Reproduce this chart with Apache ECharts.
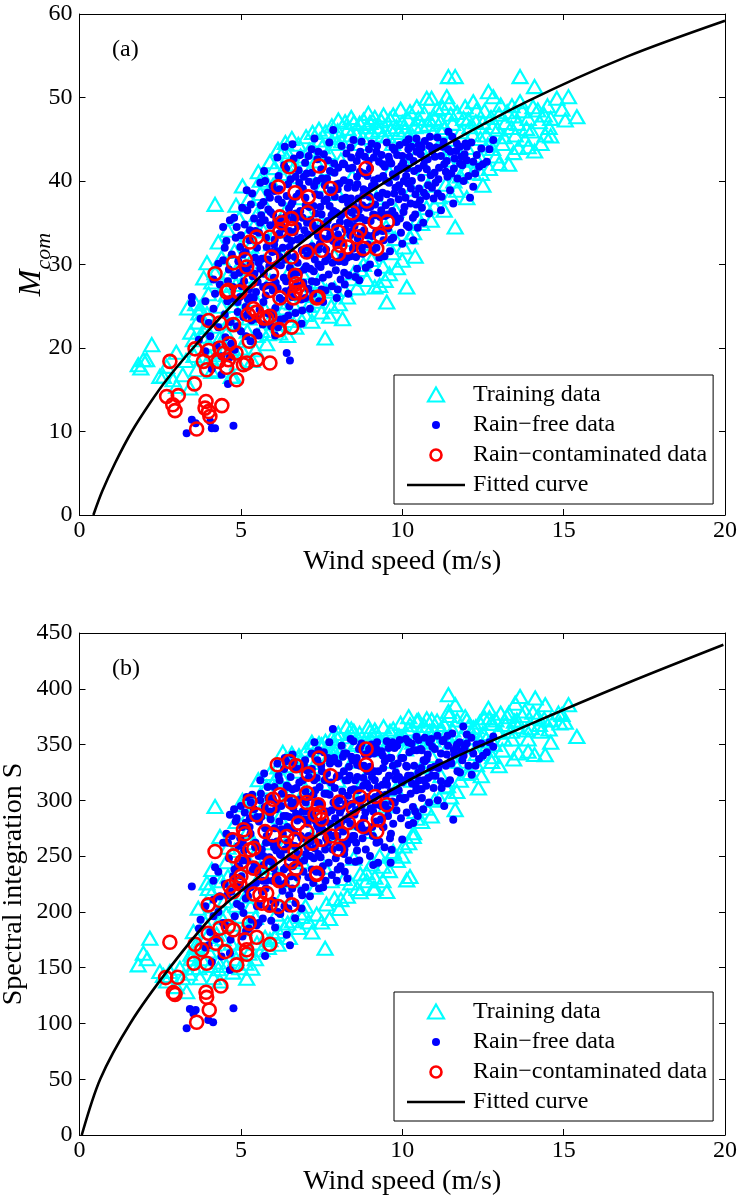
<!DOCTYPE html>
<html><head><meta charset="utf-8">
<script src="https://cdn.jsdelivr.net/npm/echarts@6/dist/echarts.min.js"></script>
<style>html,body{margin:0;padding:0;background:#fff}#c{width:739px;height:1201px}</style>
</head><body><div id="c"></div><script>
// ---------- DATA ----------
const seriesNames = ['Training data', 'Rain\u2212free data', 'Rain\u2212contaminated data', 'Fitted curve'];
const xTicks = [0, 5, 10, 15, 20];
const yTicksA = [0, 10, 20, 30, 40, 50, 60];
const yTicksB = [0, 50, 100, 150, 200, 250, 300, 350, 400, 450];

// ---- panel (a) ----
const trainA1 = [[1.82,18],[1.98,18.6],[2.08,18.6],[2.24,20.4],[2.49,16.6],[2.6,16.6],[2.7,17.8],[1.9,17.6],
[3.01,15.4],[3.2,16.8],[3.42,15.2],[3.3,18.5],[3.53,21],[3.63,17.4],[3.0,19.5],[3.35,24.8],[3.6,25.3],[3.7,24.2],[2.9,16.2],
[3.73,24.8],[3.9,22.5],[4.0,20.5],[4.1,17.2],[4.25,17.4],[4.35,21.2],[4.4,25],[4.5,27.5],[4.2,29],[4.3,32.7],[4.2,37.2],[4.6,23],[4.0,26.5],[3.85,28.4],[4.45,19.5],[4.7,16.6],[4.77,16.6],[4.9,18.2],[3.8,18.8],
[5.0,20],[5.2,22],[5.1,24.5],[5.3,27],[4.9,29.5],[5.4,31],[5.2,33.5],[5.5,36],[5.54,41.1],[5.6,38.5],[4.95,35.5],[5.35,18.5],[5.5,21.5],[5.05,30.5],[4.8,31.6],[5.45,25.8],[5.7,34],
[5.8,20.5],[6.0,23],[6.2,25.5],[5.9,28],[6.3,31],[6.1,34],[6.4,36.5],[6.0,39.5],[6.5,42],[6.3,43.5],[6.6,40.5],[5.75,37],[6.45,21.5],[6.2,21.8],[6.55,29.5],[5.95,32.5],
[6.7,22.5],[7.0,24],[7.3,26.5],[6.9,29],[7.2,32],[7.5,35],[6.8,38],[7.1,41],[7.25,43.7],[7.45,44.9],[7.61,21.2],[7.4,28],[7.0,36.5],[7.55,39.5],[6.85,43],
[7.86,44.5],[7.97,44.5],[8.23,47.1],[8.0,46],[8.4,45.5],[8.1,42.5],[7.8,25],[8.2,27],[8.5,29],[7.9,31],[8.3,33],[8.6,36],[8.0,38.5],[8.45,40.5],[8.5,47],[7.7,41.5],[8.15,23.5],
[8.9,46.5],[9.0,47.0],[9.2,46.5],[9.4,45.5],[8.7,44.5],[9.1,43.5],[9.47,28.1],[9.52,25.5],[9.3,27.5],[8.8,30],[9.0,32.5],[9.5,34.5],[9.78,33.1],[9.2,38],[9.6,41],[9.35,47.2],[8.8,47.3],[9.65,46.2],
[9.72,47.9],[10.24,48.3],[10.0,47],[10.4,46.5],[9.9,45.8],[10.5,47.5],[10.14,27.3],[10.24,33.3],[10.0,30.5],[10.5,35.5],[9.8,36.5],[10.3,39],[10.1,42],[10.55,44],[10.2,45.5],[9.7,44.5],[10.4,31],
[10.76,49.9],[10.91,49.9],[11.38,50.1],[11.43,52.5],[11.64,52.5],[11.0,47.5],[11.2,46],[11.5,48],[10.8,46.8],[11.1,44],[11.4,42.5],[11.6,40],[11.69,38.9],[11.64,34.5],[11.0,37],[10.8,39.5],[11.3,36.5],[11.5,45],[10.7,41.5],[11.25,48.8],
[11.9,47.5],[12.1,46.5],[12.3,48.5],[12.5,47],[12.0,44],[12.4,43],[12.2,41],[12.6,45.5],[11.8,42.5],[12.5,39.5],[12.0,38],[12.2,49.5],
[12.67,50.7],[12.82,50.1],[13.0,48],[13.2,47],[13.4,49],[12.8,46.5],[13.1,44.5],[13.5,45.5],[12.9,43],[13.3,42],[13.6,44],[12.7,41.5],
[13.65,52.5],[13.65,49.5],[14.1,51.3],[14.79,49.9],[15.15,50.1],[15.41,47.7],[14.43,45.5],[13.9,47.5],[14.2,48.5],[14.5,49],[14.0,46],[14.6,47.5],[13.8,45],[14.3,44.5]];
const trainA2 = [[6.05,41.6],[6.15,43.8],[6.25,40.9],[6.38,44.6],[6.48,43.1],[6.58,45.1],[6.68,41.8],[6.78,44.4],[6.92,42.6],[7.02,45.3],[7.12,43.7],[7.22,45.8],[7.32,42.4],[7.42,46.2],[7.52,44.1],[7.62,45.9],[7.72,43.4],[7.82,46.6],[7.92,45.2],[8.02,47.3],[8.12,44.8],[8.32,46.3],[8.42,47.6],[8.58,45.6],[8.68,46.9],[8.78,45.2],[8.95,48.1],[9.05,45.9],[9.15,47.6],[9.28,46.1],[9.42,47.9],[9.55,45.4],[9.62,47.4],[9.82,46.5],[9.95,48.6],[10.08,46.1],[10.18,47.4],[10.32,45.4],[10.45,48.9],[10.6,46.6],[10.68,48.1],[10.85,47.3],[10.95,45.8],[11.08,48.6],[11.18,47.1],[11.32,46.4],[11.45,49.3],[11.56,46.9],[11.7,48.2],[11.82,45.9],[11.95,48.9],[12.05,47.4],[12.18,45.6],[12.28,47.1],[12.42,45.1],[12.55,48.4],[12.65,44.3],[12.75,47.6],[12.95,46.2],[13.05,49.1],[13.15,45.3],[13.25,48.3],[13.38,46.4],[13.48,47.8],[13.58,46.9],[13.72,48.4],[13.85,46.3],[14.05,48.9],[14.25,47.1],[14.4,47.9],[14.55,46.4],[14.95,48.6],[15.05,47.3],
[4.55,21.8],[4.75,19.9],[4.85,22.8],[5.15,20.9],[5.25,23.6],[5.45,19.8],[5.65,22.1],[5.75,24.6],[5.85,21.7],[6.05,24.3],[6.15,22.9],[6.35,24.8],[6.5,23.3],[6.6,25.4],[6.8,23.9],[6.95,26.3],[7.1,25.1],[7.2,23.2],[7.35,25.6],[7.5,24.3],[7.65,26.8],[7.75,23.8],[7.9,27.1],[8.05,25.3],[8.3,26.1],[8.4,28.3],[8.6,27.2],[8.7,29.4],[8.9,28.2],[9.05,30.6],[9.15,27.3],[9.4,29.8],[9.6,28.9],[9.7,31.4],[9.85,29.6],[10.05,32.1],[10.35,33.8],[10.6,34.9],[10.75,36.8],[10.9,35.3],[11.15,38.1],[11.35,39.6],[11.5,38.3],[11.8,40.6],[12.0,41.4],[12.3,42.6],[12.45,40.9],[12.8,43.9],[13.0,42.1],[13.45,43.4],[13.9,44.1],[14.1,43.6],[14.6,45.4],
[3.45,21.9],[3.55,19.1],[3.65,23.1],[3.8,21.4],[3.95,24.1],[4.05,18.9],[4.15,22.6],[4.3,19.2],[4.45,23.6],[4.55,26.4],[4.65,29.1],[4.75,25.1],[4.85,27.6],[5.0,25.9],[5.15,28.6],[5.3,32.2],[5.4,34.6],[5.25,37.9],[5.6,40.1],[5.8,39.8],[5.9,42.3],[5.7,30.3],[4.4,30.8],[4.1,27.9],[3.95,30.2],[4.6,34.1],[4.85,37.1],[5.05,39.4]];

const freeA1 = [[3.32,9.8],[3.48,11.4],[3.6,11.0],[4.1,10.4],[4.2,10.4],[4.05,11.2],[4.77,10.7],[3.48,26.1],[3.48,25.4],[4.66,35.3],[4.87,34.5],[3.7,21],[4.0,23],[3.9,25.6],[4.2,26.5],[4.3,22.5],[4.5,24],[4.6,28],[4.45,30.5],[4.7,20.5],[4.4,19],[4.1,17.5],[4.6,15.7],[4.5,32],
[5.0,22],[5.2,24],[5.4,26],[5.1,28],[5.3,30],[5.5,32],[5.0,33.5],[5.6,35],[5.2,36.5],[5.7,37.5],[4.9,25.5],[5.5,23.5],[5.8,27.5],[5.3,20.8],[5.6,29.5],[4.95,29],[5.45,34],[5.15,31.5],[5.7,25.5],[5.35,38.5],[5.75,40],[5.55,21.5],[5.25,27],
[6.0,24],[6.2,26],[6.4,28],[6.1,30],[6.3,32],[6.5,34],[6.0,36],[6.6,37.5],[6.2,39],[6.7,40.5],[6.4,41.5],[5.9,38],[6.83,43.1],[6.5,25],[6.7,29],[6.05,33],[6.45,31],[6.25,35.5],[6.75,33],[6.15,22.5],[6.55,27],[6.35,23.5],[6.42,19.4],[6.52,18.5],[6.65,36],[5.95,27.5],[6.8,38.5],
[7.0,26],[7.2,28],[7.4,30],[7.1,32],[7.3,34],[7.5,36],[7.0,38],[7.6,39.5],[7.2,41],[7.7,42.5],[7.4,43.5],[7.86,46.1],[6.9,24.5],[7.5,27],[7.7,31],[7.05,35],[7.45,32.5],[7.25,37],[7.65,34.5],[7.15,29.5],[7.55,25.5],[7.35,40],[6.95,40.5],[7.75,37],[7.1,43],
[8.0,27],[8.2,29],[8.4,31],[8.1,33],[8.3,35],[8.5,37],[8.0,39],[8.6,40.5],[8.2,42],[8.7,43.5],[8.4,44],[7.97,26],[8.33,26.5],[8.55,28.5],[8.75,32],[8.05,36],[8.45,34],[8.25,38],[8.65,36.5],[8.15,31],[7.9,41],[8.8,39],[8.35,41.5],[8.6,29.5],
[9.0,30],[9.2,32],[9.4,34],[9.1,36],[9.3,38],[9.5,40],[9.0,41.5],[9.6,42.5],[9.2,43.5],[9.7,44],[9.4,42],[8.9,33.5],[9.55,36],[9.75,38.5],[9.15,39.5],[9.45,31],[9.65,33],[9.05,44.5],[9.35,36.5],[9.8,40.5],[9.25,29],
[10.0,32.5],[10.2,34.5],[10.4,36],[10.1,38],[10.3,40],[10.5,41.5],[10.0,43],[10.6,44],[10.2,45],[10.7,42.5],[9.93,35.5],[10.34,32.9],[10.55,37.7],[10.8,39.5],[10.15,41.5],[10.45,43.5],[10.65,35],[10.05,40],
[10.86,45.3],[11.43,45.9],[11.69,44.5],[11.96,44.5],[12.31,43.1],[11.79,42.1],[12.26,40.9],[12.2,39.3],[11.58,37.3],[12.82,44.9],[11.0,41],[11.2,43],[11.4,40.5],[11.1,38.5],[11.3,42],[11.6,41.5],[11.9,40],[12.0,42.5],[11.5,43.5],[11.2,36.5],[11.05,44],[12.1,38],[12.5,42]];
const freeA2 = [[4.52,21.3],[4.58,25.6],[4.63,29.4],[4.68,23.1],[4.72,31.2],[4.76,27.3],[4.81,19.8],[4.84,33.2],[4.88,22.6],[4.92,30.4],[4.97,26.1],[4.55,32.8],[4.66,18.9],[4.79,35.6],[4.9,24.3],
[5.02,27.4],[5.06,31.2],[5.08,23.7],[5.12,34.8],[5.16,21.4],[5.19,29.3],[5.22,25.8],[5.27,32.9],[5.31,37.2],[5.33,23.3],[5.37,28.6],[5.41,35.5],[5.44,30.8],[5.47,26.7],[5.49,21.9],[5.04,36.8],[5.18,38.9],[5.28,34.1],
[5.52,27.9],[5.56,33.8],[5.58,24.6],[5.62,37.1],[5.65,30.7],[5.68,22.8],[5.71,28.9],[5.74,35.3],[5.77,26.3],[5.8,32.1],[5.83,38.6],[5.86,24.1],[5.88,29.8],[5.91,34.7],[5.94,22.6],[5.97,31.5],[5.99,26.9],[5.6,39.8],[5.72,41.2],[5.85,36.6],
[6.02,28.4],[6.04,38.8],[6.07,24.8],[6.09,35.1],[6.12,31.6],[6.14,27.2],[6.17,40.6],[6.19,33.7],[6.22,23.4],[6.24,29.9],[6.27,37.4],[6.29,25.7],[6.32,34.3],[6.34,41.9],[6.37,30.6],[6.39,26.8],[6.42,38.2],[6.44,33.1],[6.47,23.9],[6.49,36.7],[6.13,42.8],[6.36,44.1],[6.06,21.5],
[6.52,29.6],[6.54,40.2],[6.57,32.8],[6.59,26.1],[6.62,35.4],[6.64,42.7],[6.67,30.9],[6.69,24.2],[6.72,38.1],[6.74,27.5],[6.77,34.6],[6.79,41.3],[6.82,29.1],[6.84,36.4],[6.87,25.8],[6.89,31.7],[6.92,39.1],[6.94,27.8],[6.97,34.1],[6.99,42.2],[6.6,44.4],[6.88,22.9],
[7.02,29.8],[7.04,40.9],[7.07,33.6],[7.09,27.1],[7.12,36.9],[7.14,24.7],[7.17,31.4],[7.19,43.8],[7.22,34.8],[7.24,26.5],[7.27,39.4],[7.29,30.6],[7.32,36.1],[7.34,27.9],[7.37,42.6],[7.39,33.4],[7.42,25.6],[7.44,38.3],[7.47,29.7],[7.49,41.4],[7.28,45.1],
[7.52,33.1],[7.54,28.4],[7.57,43.2],[7.59,37.6],[7.62,26.9],[7.64,31.8],[7.67,40.3],[7.69,35.2],[7.72,28.8],[7.74,44.6],[7.77,33.7],[7.79,38.9],[7.82,27.4],[7.84,30.2],[7.87,36.4],[7.89,42.1],[7.92,34.5],[7.94,29.3],[7.97,39.6],[7.99,32.3],
[8.02,41.6],[8.04,30.4],[8.07,35.1],[8.09,28.2],[8.12,44.2],[8.14,37.8],[8.17,32.6],[8.19,40.1],[8.22,27.6],[8.24,34.2],[8.27,43.3],[8.29,30.8],[8.32,37.3],[8.34,28.7],[8.37,39.8],[8.39,33.5],[8.42,42.8],[8.44,36.2],[8.47,31.9],[8.49,44.9],
[8.52,34.6],[8.54,39.2],[8.57,30.9],[8.59,42.4],[8.62,33.1],[8.64,37.9],[8.67,28.1],[8.69,41.1],[8.72,35.6],[8.74,44.7],[8.77,31.3],[8.79,38.3],[8.82,34.1],[8.84,42.9],[8.87,29.6],[8.89,36.8],[8.92,40.6],[8.94,32.4],[8.97,43.8],[8.99,38.1],
[9.02,35.2],[9.06,39.4],[9.09,31.7],[9.12,42.8],[9.16,37.2],[9.19,33.9],[9.22,44.2],[9.26,40.3],[9.29,30.8],[9.32,35.7],[9.36,43.1],[9.39,38.6],[9.42,32.9],[9.46,41.7],[9.49,37.1],
[9.52,44.6],[9.56,34.3],[9.59,39.8],[9.62,31.6],[9.66,42.1],[9.69,36.4],[9.72,33.2],[9.76,43.7],[9.79,39.2],[9.82,35.1],[9.86,41.4],[9.89,37.8],[9.92,44.3],[9.96,33.8],[9.99,38.7],
[10.03,42.2],[10.07,36.9],[10.11,44.6],[10.14,34.7],[10.18,39.7],[10.22,42.9],[10.26,37.3],[10.29,44.1],[10.33,35.6],[10.37,41.2],[10.41,38.4],[10.44,45.1],[10.48,34.4],
[10.52,39.1],[10.57,43.2],[10.61,36.8],[10.66,41.9],[10.7,44.8],[10.74,38.2],[10.79,42.6],[10.83,36.1],[10.88,40.7],[10.93,43.6],[10.97,37.9],
[11.03,39.8],[11.09,45.2],[11.14,41.6],[11.22,38.1],[11.28,44.7],[11.35,41.1],[11.42,43.8],[11.48,38.9],[11.55,45.3],[11.62,42.7],[11.71,40.3],[11.78,44.1],[11.86,41.9],[11.93,43.2],[12.05,40.6],[12.14,44.6],[12.38,41.7],[12.45,43.9],[12.62,42.3],[12.7,43.8],
[3.9,19.6],[4.05,21.4],[4.15,24.7],[4.25,20.3],[4.35,27.6],[4.4,16.8],[4.3,30.1],[4.15,28.2],[3.75,23.5],[4.45,34.5]];
const freeA3 = [[5.55,30.2],[5.63,35.9],[5.69,27.3],[5.78,33.2],[5.84,30.6],[5.92,36.3],[5.98,39.4],[6.03,32.4],[6.08,27.8],[6.16,37.8],[6.21,30.9],[6.26,34.6],[6.33,28.4],[6.41,35.8],[6.46,39.6],[6.51,32.1],[6.56,37.2],[6.61,28.7],[6.66,33.9],[6.71,36.1],[6.76,30.2],[6.81,39.8],[6.86,33.2],[6.91,35.6],[6.96,29.4],[7.01,37.1],[7.06,31.1],[7.11,39.9],[7.16,35.3],[7.21,32.2],[7.26,29.2],[7.31,38.4],[7.36,34.3],[7.41,31.8],[7.46,36.9],[7.51,40.3],[7.56,34.8],[7.61,30.4],[7.66,37.8],[7.71,33.1],[7.76,41.2],[7.81,35.9],[7.86,32.8],[7.91,38.1],[7.96,36.2],[8.01,33.6],[8.06,39.7],[8.11,35.9],[8.16,42.1],[8.21,30.3],[8.26,36.4],[8.31,39.2],[8.36,34.9],[8.41,37.9],[8.46,41.6],[8.51,32.2],[8.56,35.5],[8.61,39.6],[8.66,43.1],[8.71,33.8],[8.76,37.1],[8.81,40.9],[8.86,35.3],[8.91,38.8],[8.96,42.4],[9.01,36.9],[9.07,33.4],[9.13,40.1],[9.18,35.9],[9.24,38.2],[9.28,42.3],[9.34,34.1],[9.41,40.6],[9.47,35.8],[9.53,38.4],[9.58,42.9],[9.64,37.5],[9.71,40.8],[9.77,35.9],[9.84,43.1],[9.9,39.5],[9.97,41.8],[10.04,36.3],[10.12,40.6],[10.19,43.8],[10.27,39.1],[10.35,42.4],[10.43,37.2],[10.51,44.3],[10.59,40.4],[10.67,38.6],[10.76,41.4],[10.84,44.2],[10.92,39.2],[11.01,42.9],[11.12,40.2],[11.25,44.1],[11.38,42.4],[11.52,40.9],[11.67,43.6],[11.83,42.9],[12.0,44.1],[12.2,42.3],[5.3,26.1],[5.42,28.9],[5.15,24.9],[5.05,29.7],[4.98,32.1],[4.7,25.9],[4.8,28.7]];

const rainA = [[2.8,18.4],[2.7,14.2],[3.06,14.3],[2.89,13.2],[2.96,12.5],[3.63,10.3],[3.56,15.7],[3.58,19.9],[3.84,18.4],[4.0,19.7],[3.94,17.4],[3.92,13.6],[3.89,12.8],[4.0,12.4],[4.04,11.8],[4.41,13.1],
[4.3,18.4],[4.48,19.4],[4.61,18.6],[4.56,17.7],[4.35,20],[4.64,20.5],[4.85,19.4],[5.26,20.8],[4.87,16.2],[5.08,18],[5.49,18.6],[5.9,18.2],[5.18,18.2],
[4.0,23.3],[4.35,23],[4.77,22.8],[6.19,22.2],[6.57,22.5],[6.21,26],[6.63,26],[7.4,26.1],[5.9,26.9],[6.78,27.4],[6.68,26.6],[5.23,24],[5.49,24.3],[5.7,23.6],[5.9,23.8],[4.61,26.9],[4.92,26.7],
[4.2,28.9],[4.77,30.2],[5.13,30.6],[5.18,29.7],[4.56,26.7],[4.97,26.7],[6.86,26.7],[7.35,26],[5.39,24.7],[5.8,23.6],[6.16,22.2],[6.68,28.7],[6.71,27.7],[5.95,28.9],[5.28,28],
[6.5,41.7],[7.43,41.8],[8.88,41.5],[6.16,39.3],[6.68,38.6],[7.09,38.1],[7.78,39.1],[8.9,37.6],[7.07,36.2],[8.45,36.2],[9.16,35.1],[9.54,35.1],[9.31,33.5],[8.69,34.1],[8.02,33.9],[7.35,34.6],
[6.21,35.7],[6.57,35.5],[6.27,35],[6.57,34.3],[5.49,33.3],[5.28,32.7],[5.9,33.3],[6.21,34],[7.66,33.5],[8.07,32.3],[8.59,33.3],[8.8,31.9],[9.21,31.9],[7.5,31.7],[8.3,32.1],[5.95,30.9],[6.57,30.9],[7.04,31.5],[8.02,31.3]];

const curveA = [[0.43,0],[0.7,2.8],[1.1,6.2],[1.62,10],[2.2,13.5],[2.7,16.2],[3.52,20],[4.45,24],[5.59,28.5],[7.0,33],[8.69,37.9],[9.6,40.2],[11.07,43.7],[13.86,49.5],[16.96,54.9],[20,59.2]];

// ---- panel (b) ----
const trainB1 = [[1.82,152.5],[1.98,163],[2.18,176.4],[2.1,158],[2.49,146.5],[2.6,143],[2.8,146.5],[2.7,138],
[3.11,149.5],[3.32,128.5],[3.0,133],[3.2,141],[3.53,182.3],[3.45,158],[3.6,170],[3.68,203.3],[3.4,145],[3.7,150],
[3.73,141],[3.99,221],[4.1,216.8],[4.15,141],[4.35,138],[4.2,294.5],[4.35,267.6],[4.0,165],[4.25,180],[4.4,195],[4.5,210],[4.6,232],[3.9,190],[4.3,155],[4.55,245],[4.7,172],[4.1,238],
[4.97,150],[5.18,140.5],[5.34,149.5],[5.54,318.4],[4.9,165],[5.1,185],[5.3,205],[5.0,228],[5.4,250],[5.2,272],[5.6,290],[5.5,172],[4.8,255],[5.05,300],[5.65,235],[5.45,195],
[6.16,182.3],[5.9,175],[6.1,198],[6.3,215],[6.0,240],[6.4,262],[6.2,285],[6.5,305],[6.1,320],[6.6,335],[5.8,262],[6.45,190],[6.6,228],[6.3,343],[5.9,298],
[6.89,195.8],[7.61,167.4],[7.0,205],[7.3,222],[6.9,245],[7.2,268],[7.5,288],[7.0,310],[7.4,330],[7.5,349.8],[6.8,340],[7.2,352],[7.6,240],[7.1,290],[7.55,315],
[7.86,341],[7.92,342.4],[8.28,366.2],[8.0,355],[8.5,362],[8.2,230],[8.5,248],[7.9,262],[8.3,280],[8.6,300],[8.0,318],[8.45,335],[8.6,350],[8.1,211],[8.7,218],[7.8,228],
[9.1,221],[9.16,221.3],[9.52,218.2],[9.2,360],[9.36,352],[9.41,345.3],[9.72,364],[9.72,254],[8.9,235],[9.3,250],[9.0,272],[9.5,295],[8.8,318],[9.6,335],[9.0,362],[9.4,228],[8.9,350],
[10.24,367.7],[10.45,284],[10.34,267.6],[10.24,231.7],[10.14,228.7],[10.4,290],[10.2,262],[9.9,358],[10.5,372],[10.1,346],[10.6,330],[9.8,310],[10.3,318],[10.0,250],[10.55,352],[10.2,375],
[10.76,373],[10.91,372.2],[11.43,394.6],[11.64,385.7],[11.43,379.7],[11.69,307.9],[11.64,291.5],[11.0,362],[11.3,368],[11.5,352],[10.9,340],[11.2,322],[11.6,335],[11.0,300],[11.4,313],[10.8,355],
[12.36,311],[12.67,382.6],[12.7,374],[12.77,334.8],[12.0,372],[12.2,365],[12.5,360],[11.9,348],[12.3,342],[12.6,355],[12.1,325],[12.4,370],[11.8,335],
[12.9,372],[13.4,355],[13.5,387],[13.6,342.4],[13.65,393.1],[13.0,362],[13.2,368],[13.3,378],[12.85,350],[13.1,345],[13.55,372],
[14.0,365],[14.12,391.7],[14.43,385.7],[14.43,340.8],[14.84,378.2],[14.89,369.3],[15.15,385.7],[15.41,357.2],[13.8,380],[14.2,375],[14.6,372],[13.9,355],[14.3,362]];
const trainB2 = [[6.05,318],[6.15,330],[6.25,322],[6.38,336],[6.48,331],[6.58,342],[6.68,326],[6.78,338],[6.92,333],[7.02,345],[7.12,337],[7.22,349],[7.32,334],[7.42,351],[7.52,341],[7.62,353],[7.72,339],[7.82,356],[7.92,348],[8.02,360],[8.12,346],[8.32,357],[8.42,364],[8.58,352],[8.68,360],[8.78,349],[8.95,366],[9.05,354],[9.15,363],[9.28,352],[9.42,366],[9.55,351],[9.62,362],[9.82,355],[9.95,369],[10.08,356],[10.18,364],[10.32,352],[10.45,371],[10.6,358],[10.68,367],[10.85,362],[10.95,354],[11.08,371],[11.18,363],[11.32,358],[11.45,376],[11.56,363],[11.7,372],[11.82,357],[11.95,375],[12.05,366],[12.18,356],[12.28,366],[12.42,353],[12.55,374],[12.65,350],[12.75,369],[12.95,361],[13.05,378],[13.15,355],[13.25,375],[13.38,362],[13.48,371],[13.58,366],[13.72,376],[13.85,363],[14.05,379],[14.25,368],[14.4,373],[14.55,364],[14.95,377],[15.05,370],
[4.55,152],[4.75,146],[4.85,158],[5.15,154],[5.25,163],[5.45,158],[5.65,166],[5.75,177],[5.85,168],[6.05,178],[6.15,171],[6.35,186],[6.5,177],[6.6,192],[6.8,186],[6.95,199],[7.1,191],[7.2,182],[7.35,198],[7.5,191],[7.65,207],[7.75,194],[7.9,212],[8.05,203],[8.3,214],[8.4,226],[8.6,221],[8.7,234],[8.9,228],[9.05,243],[9.15,231],[9.4,241],[9.6,237],[9.7,252],[9.85,246],[10.05,259],[10.35,271],[10.6,281],[10.75,293],[10.9,286],[11.15,302],[11.35,312],[11.5,303],[11.8,318],[12.0,324],[12.3,332],[12.45,322],[12.8,339],[13.0,331],[13.45,337],[13.9,344],[14.1,341],[14.6,352],
[3.45,162],[3.55,150],[3.65,168],[3.8,158],[3.95,178],[4.05,152],[4.15,171],[4.3,149],[4.45,176],[4.55,198],[4.65,218],[4.75,189],[4.85,206],[5.0,196],[5.15,214],[5.3,242],[5.4,262],[5.25,288],[5.6,305],[5.8,312],[5.9,324],[5.7,232],[4.4,228],[4.1,205],[3.95,226],[4.6,258],[4.85,281],[5.05,296]];

const freeB1 = [[3.32,95.7],[3.53,109],[3.42,113],[3.6,112],[3.99,103],[4.14,101],[4.77,113.6],[3.48,222.7],[4.66,287],[4.87,284],[4.66,148],[4.15,210.8],[6.42,179.4],[6.52,170],[5.75,160.5],[6.68,194.4],[7.85,364],[3.7,185],[4.0,170],[4.3,200],[4.5,225],[4.2,240],[4.6,262],[4.45,190],[4.1,155],[3.9,205],
[5.0,205],[5.2,220],[5.4,238],[5.1,255],[5.3,270],[5.5,285],[5.0,295],[5.6,300],[5.7,250],[5.25,185],[5.5,205],[5.8,228],[4.95,240],[5.45,262],[5.15,280],[5.65,218],[5.35,305],[5.75,275],[5.05,178],[5.55,190],
[6.0,210],[6.2,225],[6.4,240],[6.1,255],[6.3,270],[6.5,285],[6.0,300],[6.6,310],[6.2,318],[6.7,328],[6.4,335],[5.9,290],[6.5,215],[6.7,248],[6.05,275],[6.45,262],[6.25,295],[6.75,282],[6.15,200],[6.55,232],[6.35,205],[6.65,298],[5.95,245],
[7.0,222],[7.2,238],[7.4,252],[7.1,268],[7.3,282],[7.5,296],[7.0,308],[7.6,318],[7.2,328],[7.7,338],[7.4,345],[6.9,215],[7.5,235],[7.7,262],[7.05,290],[7.45,272],[7.25,305],[7.65,290],[7.15,250],[7.55,222],[7.35,320],[6.95,332],[7.75,305],
[8.0,238],[8.2,252],[8.4,265],[8.1,280],[8.3,295],[8.5,310],[8.0,322],[8.6,332],[8.2,342],[8.7,348],[8.4,355],[7.97,228],[8.3,230],[8.55,245],[8.75,275],[8.05,300],[8.45,288],[8.25,318],[8.65,300],[8.15,262],[7.9,335],[8.8,320],[8.35,330],[8.6,255],
[9.0,250],[9.2,262],[9.4,276],[9.1,290],[9.3,305],[9.5,318],[9.0,330],[9.6,338],[9.2,346],[9.7,352],[9.4,340],[8.9,272],[9.55,292],[9.75,308],[9.15,318],[9.45,258],[9.65,270],[9.05,350],[9.35,295],[9.8,325],[9.25,244],[9.1,242],[9.64,244],[9.67,255.6],
[10.0,265],[10.2,278],[10.4,290],[10.1,302],[10.3,315],[10.5,325],[10.0,338],[10.6,345],[10.2,352],[10.7,335],[9.93,302],[10.34,279.6],[10.55,310],[10.8,320],[10.15,330],[10.45,345],[10.65,292],[10.05,318],
[10.9,355],[11.4,358],[11.7,350],[11.89,366.2],[12.0,359],[12.82,357.2],[12.82,348],[11.58,282.5],[12.15,323],[12.27,331],[11.79,325],[11.4,315],[11.2,317],[10.6,310],[11.0,330],[11.2,342],[11.5,335],[11.6,345],[11.9,340],[12.3,350],[11.1,300],[12.5,340],[11.3,295]];
const freeB2 = [[4.52,188],[4.58,215],[4.63,248],[4.68,175],[4.72,268],[4.76,232],[4.81,196],[4.84,281],[4.88,207],[4.92,259],[4.97,224],[4.55,270],[4.66,163],[4.79,292],[4.9,241],
[5.02,232],[5.06,262],[5.08,199],[5.12,289],[5.16,183],[5.19,246],[5.22,214],[5.27,276],[5.31,298],[5.33,193],[5.37,238],[5.41,292],[5.44,258],[5.47,226],[5.49,188],[5.04,276],[5.18,303],[5.28,284],
[5.52,236],[5.56,281],[5.58,206],[5.62,306],[5.65,256],[5.68,194],[5.71,242],[5.74,294],[5.77,221],[5.8,268],[5.83,312],[5.86,203],[5.88,249],[5.91,288],[5.94,192],[5.97,262],[5.99,228],[5.6,318],[5.72,324],[5.85,302],
[6.02,239],[6.04,312],[6.07,208],[6.09,292],[6.12,263],[6.14,229],[6.17,322],[6.19,281],[6.22,198],[6.24,251],[6.27,306],[6.29,219],[6.32,286],[6.34,328],[6.37,256],[6.39,226],[6.42,313],[6.44,276],[6.47,203],[6.49,302],[6.13,333],[6.36,338],[6.06,186],
[6.52,249],[6.54,321],[6.57,274],[6.59,221],[6.62,293],[6.64,334],[6.67,259],[6.69,208],[6.72,311],[6.74,231],[6.77,287],[6.79,328],[6.82,244],[6.84,301],[6.87,219],[6.89,266],[6.92,318],[6.94,236],[6.97,283],[6.99,336],[6.6,341],[6.88,203],
[7.02,252],[7.04,327],[7.07,279],[7.09,231],[7.12,303],[7.14,214],[7.17,263],[7.19,342],[7.22,289],[7.24,226],[7.27,318],[7.29,257],[7.32,298],[7.34,236],[7.37,336],[7.39,276],[7.42,221],[7.44,312],[7.47,249],[7.49,331],[7.28,352],
[7.52,274],[7.54,241],[7.57,343],[7.59,306],[7.62,228],[7.64,266],[7.67,324],[7.69,289],[7.72,244],[7.74,352],[7.77,279],[7.79,316],[7.82,233],[7.84,256],[7.87,298],[7.89,338],[7.92,284],[7.94,248],[7.97,321],[7.99,268],
[8.02,333],[8.04,258],[8.07,289],[8.09,241],[8.12,349],[8.14,308],[8.17,272],[8.19,326],[8.22,236],[8.24,283],[8.27,342],[8.29,261],[8.32,304],[8.34,246],[8.37,322],[8.39,279],[8.42,339],[8.44,297],[8.47,268],[8.49,353],
[8.52,287],[8.54,318],[8.57,262],[8.59,338],[8.62,276],[8.64,309],[8.67,246],[8.69,331],[8.72,294],[8.74,351],[8.77,266],[8.79,313],[8.82,284],[8.84,341],[8.87,256],[8.89,303],[8.92,326],[8.94,273],[8.97,346],[8.99,311],
[9.02,293],[9.06,321],[9.09,268],[9.12,342],[9.16,303],[9.19,281],[9.22,352],[9.26,326],[9.29,263],[9.32,296],[9.36,344],[9.39,314],[9.42,276],[9.46,335],[9.49,305],
[9.52,353],[9.56,286],[9.59,322],[9.62,266],[9.66,338],[9.69,299],[9.72,279],[9.76,347],[9.79,319],[9.82,291],[9.86,333],[9.89,309],[9.92,354],[9.96,284],[9.99,316],
[10.03,338],[10.07,302],[10.11,355],[10.14,289],[10.18,322],[10.22,343],[10.26,306],[10.29,351],[10.33,294],[10.37,331],[10.41,314],[10.44,357],[10.48,286],
[10.52,318],[10.57,346],[10.61,302],[10.66,336],[10.7,356],[10.74,313],[10.79,341],[10.83,298],[10.88,329],[10.93,348],[10.97,311],
[11.03,322],[11.09,358],[11.14,334],[11.22,311],[11.28,354],[11.35,331],[11.42,349],[11.48,318],[11.55,360],[11.62,341],[11.71,326],[11.78,352],[11.86,336],[11.93,347],[12.05,331],[12.14,356],[12.38,337],[12.45,351],[12.62,343],[12.7,352],
[3.9,168],[4.05,182],[4.15,196],[4.25,176],[4.35,214],[4.4,160],[4.3,236],[4.15,228],[3.75,193],[4.45,262]];
const freeB3 = [[5.55,250],[5.63,285],[5.69,228],[5.78,262],[5.84,246],[5.92,283],[5.98,302],[6.03,258],[6.08,233],[6.16,296],[6.21,252],[6.26,274],[6.33,238],[6.41,286],[6.46,312],[6.51,262],[6.56,296],[6.61,241],[6.66,271],[6.71,288],[6.76,252],[6.81,316],[6.86,268],[6.91,290],[6.96,246],[7.01,298],[7.06,258],[7.11,321],[7.16,284],[7.21,266],[7.26,248],[7.31,309],[7.36,278],[7.41,262],[7.46,298],[7.51,326],[7.56,281],[7.61,256],[7.66,306],[7.71,271],[7.76,333],[7.81,291],[7.86,268],[7.91,311],[7.96,294],[8.01,276],[8.06,322],[8.11,292],[8.16,339],[8.21,256],[8.26,297],[8.31,318],[8.36,286],[8.41,309],[8.46,336],[8.51,268],[8.56,291],[8.61,321],[8.66,346],[8.71,278],[8.76,301],[8.81,331],[8.86,289],[8.91,315],[8.96,341],[9.01,301],[9.07,276],[9.13,326],[9.18,296],[9.24,312],[9.28,343],[9.34,283],[9.41,329],[9.47,296],[9.53,314],[9.58,347],[9.64,308],[9.71,331],[9.77,298],[9.84,349],[9.9,321],[9.97,338],[10.04,301],[10.12,331],[10.19,352],[10.27,322],[10.35,345],[10.43,309],[10.51,354],[10.59,329],[10.67,318],[10.76,337],[10.84,352],[10.92,322],[11.01,346],[11.12,329],[11.25,353],[11.38,341],[11.52,333],[11.67,348],[11.83,344],[12.0,351],[12.2,342],[5.3,222],[5.42,242],[5.15,212],[5.05,246],[4.98,266],[4.7,218],[4.8,238]];

const rainB = [[2.8,172.8],[2.67,141.1],[3.04,141.4],[2.91,127.6],[2.96,126],[3.63,101.1],[3.55,154],[3.58,171],[3.79,166],[3.94,154],[3.99,180.9],[3.92,128],[3.94,123.4],[4.02,112.1],[3.99,206.3],[4.38,133.6],
[4.23,171.9],[4.35,185.4],[4.61,186.8],[4.77,183.9],[4.51,164.4],[4.87,152.5],[5.26,189.9],[5.13,174.9],[5.18,166],[5.18,162],[5.49,177.3],[5.9,171],
[4.35,210.2],[4.77,218.2],[6.16,204.8],[6.58,206.3],[6.19,228],[6.6,228],[5.59,215.3],[5.8,216.7],[5.65,207.8],[5.9,206],[4.66,222.7],[4.97,225],[4.87,227.2],[5.0,232],[5.4,216],[6.21,228.7],[7.35,233.5],[5.65,235],
[8.88,346],[8.88,331.9],[6.5,334.8],[6.71,331],[6.13,331.9],[7.42,337.9],[7.09,323.5],[7.78,322],[5.28,299],[5.9,293],[6.21,305],[6.0,301],[6.57,298.4],[7.04,306.5],[7.04,298],[7.4,296],[7.45,288.5],[8.05,298.4],[8.48,293],[8.69,303],[9.16,303.5],[9.52,296],[9.26,282.5],[9.21,272],[8.79,276.5],[8.33,280],
[5.49,287],[5.08,273.6],[5.13,270],[4.75,264.6],[4.2,254.1],[4.77,250.2],[5.28,255.6],[5.4,257],[5.75,272],[6.0,269],[6.42,267.6],[6.78,279.6],[7.04,272],[7.3,287],[7.5,283],[6.68,265],[6.35,262],[7.2,261.6],[8.02,256.2],[7.5,265],[7.8,268],[8.13,270],
[5.9,243.7],[5.39,239.2],[6.68,254.1],[6.57,245],[6.71,239],[7.35,234.7],[5.03,245]];

const curveB = [[0.07,0],[0.64,50],[1.57,100],[2.8,150],[4.15,197],[5.5,230],[7.35,268],[8.69,293],[11.07,331],[13.86,367],[16.96,405],[19.95,439.5]];

// ---------- CHART ----------
const FONT = 'Liberation Serif';
const BLACK = '#000';
const CYAN = '#00FFFF', BLUE = '#0000FF', RED = '#FF0000';

const gridsPx = [
  {left: 79.5, top: 14, width: 645.5, height: 501},
  {left: 79.5, top: 633, width: 645.5, height: 502}
];

function xAxes(gi) {
  const base = {gridIndex: gi, type: 'value', min: xTicks[0], max: xTicks[xTicks.length-1], interval: xTicks[1]-xTicks[0],
    splitLine: {show: false},
    axisLine: {show: true, onZero: false, lineStyle: {color: BLACK, width: 1}},
    axisTick: {show: true, inside: true, length: 6, lineStyle: {color: BLACK}}};
  return [
    Object.assign({}, base, {position: 'bottom',
      axisLabel: {fontFamily: FONT, fontSize: 24, color: BLACK, margin: 4},
      name: 'Wind speed (m/s)', nameLocation: 'middle', nameGap: 33, nameMoveOverlap: false,
      nameTextStyle: {fontFamily: FONT, fontSize: 28, color: BLACK}}),
    Object.assign({}, base, {position: 'top', axisLabel: {show: false}})
  ];
}
function yAxes(gi, ticks, nameCfg) {
  const base = {gridIndex: gi, type: 'value', min: ticks[0], max: ticks[ticks.length-1], interval: ticks[1]-ticks[0],
    splitLine: {show: false},
    axisLine: {show: true, onZero: false, lineStyle: {color: BLACK, width: 1}},
    axisTick: {show: true, inside: true, length: 6, lineStyle: {color: BLACK}}};
  return [
    Object.assign({}, base, {position: 'left', nameMoveOverlap: false,
      axisLabel: {fontFamily: FONT, fontSize: 24, color: BLACK, margin: 7}}, nameCfg),
    Object.assign({}, base, {position: 'right', axisLabel: {show: false}})
  ];
}

const yNameA = {
  name: '{m|M}{s|com}', nameLocation: 'middle', nameGap: 24, nameRotate: 90,
  nameTextStyle: {rich: {
    m: {fontFamily: FONT, fontStyle: 'italic', fontSize: 32, color: BLACK, verticalAlign: 'bottom', padding: [0, 0, 8, 0]},
    s: {fontFamily: FONT, fontStyle: 'italic', fontSize: 22, color: BLACK, verticalAlign: 'bottom'}
  }}
};
const yNameB = {
  name: 'Spectral integration S', nameLocation: 'middle', nameGap: 52, nameRotate: 90,
  nameTextStyle: {fontFamily: FONT, fontSize: 28, color: BLACK}
};

function panelSeries(axisIdx, train, free, rain, curve) {
  return [
    {name: seriesNames[0], type: 'scatter', xAxisIndex: axisIdx, yAxisIndex: axisIdx, data: train,
     symbol: 'triangle', symbolSize: [15, 13], large: false,
     itemStyle: {color: 'rgba(0,0,0,0)', borderColor: CYAN, borderWidth: 2.2, opacity: 1}},
    {name: seriesNames[1], type: 'scatter', xAxisIndex: axisIdx, yAxisIndex: axisIdx, data: free,
     symbol: 'circle', symbolSize: 8, large: false, itemStyle: {color: BLUE, opacity: 1}},
    {name: seriesNames[2], type: 'scatter', xAxisIndex: axisIdx, yAxisIndex: axisIdx, data: rain,
     symbol: 'circle', symbolSize: 13, large: false,
     itemStyle: {color: 'rgba(0,0,0,0)', borderColor: RED, borderWidth: 2.6, opacity: 1}},
    {name: seriesNames[3], type: 'line', xAxisIndex: axisIdx, yAxisIndex: axisIdx, data: curve,
     smooth: 0.3, showSymbol: false, symbol: 'none', clip: true,
     lineStyle: {color: BLACK, width: 2.6}, itemStyle: {color: BLACK}, z: 5}
  ];
}

const triIcon = 'path://M0,0M18,18M9,1.5L17,15.5L1,15.5Z';
const dotIcon = 'path://M0,0M18,18M5,9A4,4,0,1,0,13,9A4,4,0,1,0,5,9Z';
const ringIcon = 'path://M0,0M18,18M3.5,9A5.5,5.5,0,1,0,14.5,9A5.5,5.5,0,1,0,3.5,9Z';
const lineIcon = 'path://M0,0L58,0L58,2.6L0,2.6Z';

function legendCfg(top) {
  return {
    orient: 'vertical', left: 394, top: top, width: 317,
    padding: [8, 6, 7, 13], itemGap: 6, itemWidth: 58, itemHeight: 18,
    backgroundColor: '#fff', borderColor: BLACK, borderWidth: 1, borderRadius: 0,
    selectedMode: false,
    textStyle: {fontFamily: FONT, fontSize: 24, color: BLACK, lineHeight: 24, padding: [0, 0, 0, 3]},
    data: [
      {name: seriesNames[0], icon: triIcon, itemStyle: {color: 'rgba(0,0,0,0)', borderColor: CYAN, borderWidth: 2.2, opacity: 1}},
      {name: seriesNames[1], icon: dotIcon, itemStyle: {color: BLUE, borderWidth: 0, opacity: 1}},
      {name: seriesNames[2], icon: ringIcon, itemStyle: {color: 'rgba(0,0,0,0)', borderColor: RED, borderWidth: 2.6, opacity: 1}},
      {name: seriesNames[3], icon: lineIcon, itemStyle: {color: BLACK, borderWidth: 0, opacity: 1}}
    ]
  };
}

const chart = echarts.init(document.getElementById('c'), null, {renderer: 'canvas'});
chart.setOption({
  animation: false,
  backgroundColor: '#fff',
  title: [
    {text: '(a)', left: 112, top: 38, padding: 0, textStyle: {fontFamily: FONT, fontSize: 24, fontWeight: 'normal', color: BLACK}},
    {text: '(b)', left: 112, top: 657, padding: 0, textStyle: {fontFamily: FONT, fontSize: 24, fontWeight: 'normal', color: BLACK}}
  ],
  grid: gridsPx.map(g => Object.assign({containLabel: false, outerBoundsMode: 'none'}, g)),
  xAxis: [...xAxes(0), ...xAxes(1)],
  yAxis: [...yAxes(0, yTicksA, yNameA), ...yAxes(1, yTicksB, yNameB)],
  legend: [legendCfg(375), legendCfg(992)],
  series: [
    ...panelSeries(0, trainA1.concat(trainA2), freeA1.concat(freeA2, freeA3), rainA, curveA),
    ...panelSeries(2, trainB1.concat(trainB2), freeB1.concat(freeB2, freeB3), rainB, curveB)
  ]
});
</script></body></html>
